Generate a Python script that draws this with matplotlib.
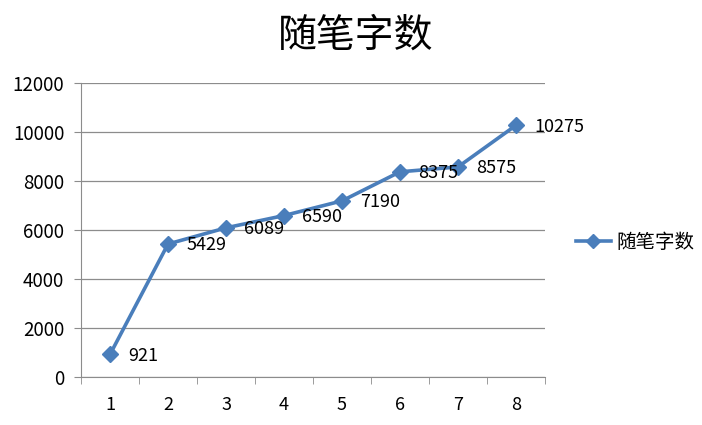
import matplotlib
matplotlib.use("Agg")
import matplotlib.pyplot as plt

plt.rcParams['font.family'] = ['Noto Sans CJK SC', 'DejaVu Sans']

# 数据
categories = [1, 2, 3, 4, 5, 6, 7, 8]
words = [921, 5429, 6089, 6590, 7190, 8375, 8575, 10275]
y_ticks = [0, 2000, 4000, 6000, 8000, 10000, 12000]
TITLE = "随笔字数"

LINE_COLOR = '#4A7EBB'
GRID_COLOR = '#8C8C8C'

fig = plt.figure(figsize=(7.02, 4.25), dpi=100)
ax = fig.add_axes([0.1154, 0.1129, 0.661, 0.6918])

line, = ax.plot(categories, words, color=LINE_COLOR, linewidth=2.6,
                marker='D', markersize=8, label=TITLE, zorder=3)

for x, y in zip(categories, words):
    ax.annotate(str(y), (x, y), xytext=(13, -1), textcoords='offset points',
                ha='left', va='center', fontsize=13, color='black')

ax.set_xlim(0.5, 8.5)
ax.set_ylim(0, 12000)
ax.set_yticks(y_ticks)
ax.set_xticks(categories)
ax.set_xticks([c - 0.5 for c in categories] + [8.5], minor=True)
ax.tick_params(axis='x', which='major', length=0, pad=14, labelsize=13)
ax.tick_params(axis='x', which='minor', length=5, color=GRID_COLOR, direction='out')
ax.tick_params(axis='y', length=5, color=GRID_COLOR, labelsize=13.5, pad=7)

ax.grid(True, axis='y', color=GRID_COLOR, linewidth=0.9)
ax.set_axisbelow(True)
for side in ['top', 'right']:
    ax.spines[side].set_visible(False)
for side in ['left', 'bottom']:
    ax.spines[side].set_color(GRID_COLOR)

fig.text(0.507, 0.915, TITLE, ha='center', va='center', fontsize=28)

fig.legend(handles=[line], loc='center left', bbox_to_anchor=(0.795, 0.43),
           frameon=False, fontsize=14, handlelength=1.8, handletextpad=0.3,
           markerscale=0.9)

fig.savefig('out.png', dpi=100)
